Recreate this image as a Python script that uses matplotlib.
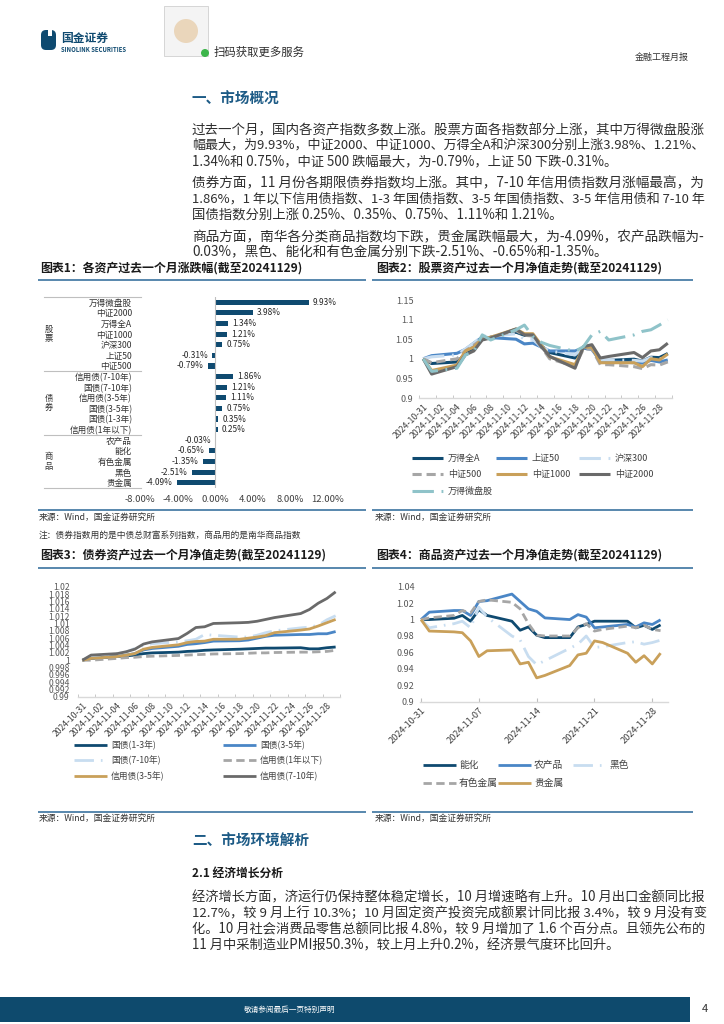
import matplotlib
matplotlib.use("Agg")

import matplotlib.pyplot as plt
import matplotlib.transforms as mtransforms
from matplotlib.patches import Rectangle, FancyBboxPatch, Circle
from matplotlib.ticker import FuncFormatter
import numpy as np
import pandas as pd

plt.rcParams['font.family'] = ['Noto Sans CJK SC', 'DejaVu Sans']
plt.rcParams['axes.unicode_minus'] = False

W, H = 724, 1024

# ---------------- data ----------------
asset_names = ["万得微盘股", "中证2000", "万得全A", "中证1000", "沪深300", "上证50", "中证500",
               "信用债(7-10年)", "国债(7-10年)", "信用债(3-5年)", "国债(3-5年)", "国债(1-3年)", "信用债(1年以下)",
               "农产品", "能化", "有色金属", "黑色", "贵金属"]
asset_returns = [9.93, 3.98, 1.34, 1.21, 0.75, -0.31, -0.79,
                 1.86, 1.21, 1.11, 0.75, 0.35, 0.25,
                 -0.03, -0.65, -1.35, -2.51, -4.09]
asset_groups = ["股票", "债券", "商品"]
group_sizes = [7, 6, 5]

trade_dates = pd.to_datetime([
    "2024-10-31", "2024-11-01", "2024-11-04", "2024-11-05", "2024-11-06", "2024-11-07", "2024-11-08",
    "2024-11-11", "2024-11-12", "2024-11-13", "2024-11-14", "2024-11-15", "2024-11-18", "2024-11-19",
    "2024-11-20", "2024-11-21", "2024-11-22", "2024-11-25", "2024-11-26", "2024-11-27", "2024-11-28",
    "2024-11-29"])

# stocks
wind_a = [1.000, 0.988, 0.992, 1.012, 1.030, 1.050, 1.055, 1.068, 1.060, 1.060, 1.033, 1.016, 1.002, 1.028,
          1.031, 0.996, 0.996, 0.999, 0.994, 1.004, 1.003, 1.0134]
sz50 = [1.000, 1.008, 1.014, 1.024, 1.040, 1.055, 1.054, 1.050, 1.038, 1.040, 1.030, 1.020, 1.020, 1.027,
        1.024, 0.994, 0.993, 0.990, 0.989, 0.996, 0.992, 0.9969]
hs300 = [1.000, 1.005, 1.010, 1.025, 1.040, 1.058, 1.057, 1.064, 1.050, 1.050, 1.030, 1.020, 1.010, 1.030,
         1.029, 0.997, 0.997, 0.996, 0.994, 1.003, 0.999, 1.0075]
zz500 = [1.000, 0.990, 1.000, 1.020, 1.035, 1.050, 1.055, 1.072, 1.060, 1.058, 1.030, 1.000, 0.981, 1.025,
         1.025, 0.985, 0.985, 0.980, 0.975, 0.985, 0.984, 0.9921]
zz1000 = [1.000, 0.970, 0.984, 1.020, 1.030, 1.050, 1.055, 1.076, 1.064, 1.064, 1.035, 1.005, 0.985, 1.030,
          1.030, 0.990, 0.990, 0.990, 0.980, 1.000, 0.997, 1.0121]
zz2000 = [1.000, 0.961, 0.980, 1.010, 1.020, 1.048, 1.053, 1.076, 1.061, 1.061, 1.031, 1.006, 0.976, 1.031,
          1.036, 1.002, 1.006, 1.016, 1.003, 1.020, 1.023, 1.0398]
micro = [1.000, 0.968, 0.976, 1.010, 1.019, 1.061, 1.048, 1.074, 1.086, 1.057, 1.042, 1.034, 1.019, 1.031,
         1.061, 1.070, 1.048, 1.061, 1.070, 1.074, 1.086, 1.0993]
stock_names = ["万得全A", "上证50", "沪深300", "中证500", "中证1000", "中证2000", "万得微盘股"]
stock_series = [wind_a, sz50, hs300, zz500, zz1000, zz2000, micro]

# bonds
gz13 = [1.0, 1.0005, 1.0010, 1.0012, 1.0014, 1.0018, 1.0020, 1.0022, 1.0024, 1.0025, 1.0027, 1.0028, 1.0030,
        1.0031, 1.0032, 1.0033, 1.0033, 1.0034, 1.0031, 1.0031, 1.0034, 1.0036]
gz35 = [1.0, 1.0006, 1.0010, 1.0014, 1.0018, 1.0028, 1.0032, 1.0038, 1.0043, 1.0045, 1.0048, 1.0052, 1.0053,
        1.0055, 1.0060, 1.0065, 1.0068, 1.0070, 1.0070, 1.0072, 1.0072, 1.0078]
gz710 = [1.0, 1.0012, 1.0018, 1.0022, 1.0032, 1.0040, 1.0045, 1.0050, 1.0053, 1.0057, 1.0070, 1.0068, 1.0063,
         1.0063, 1.0068, 1.0075, 1.0080, 1.0088, 1.0090, 1.0095, 1.0110, 1.0121]
xy1 = [1.0, 1.0000, 1.0005, 1.0007, 1.0008, 1.0010, 1.0011, 1.0013, 1.0014, 1.0015, 1.0016, 1.0017, 1.0018,
       1.0019, 1.0020, 1.0020, 1.0021, 1.0022, 1.0022, 1.0023, 1.0024, 1.0027]
xy35 = [1.0, 1.0005, 1.0010, 1.0014, 1.0018, 1.0030, 1.0035, 1.0042, 1.0048, 1.0051, 1.0052, 1.0057, 1.0057,
        1.0060, 1.0063, 1.0067, 1.0075, 1.0082, 1.0085, 1.0093, 1.0102, 1.0111]
xy710 = [1.0, 1.0014, 1.0018, 1.0023, 1.0030, 1.0044, 1.0050, 1.0059, 1.0073, 1.0089, 1.0091, 1.0100, 1.0102,
         1.0103, 1.0106, 1.0111, 1.0116, 1.0127, 1.0138, 1.0155, 1.0168, 1.0186]
bond_names = ["国债(1-3年)", "国债(3-5年)", "国债(7-10年)", "信用债(1年以下)", "信用债(3-5年)", "信用债(7-10年)"]
bond_series = [gz13, gz35, gz710, xy1, xy35, xy710]

# commodities
nenghua = [1.000, 1.000, 1.0016, 1.005, 0.998, 1.012, 1.005, 0.998, 0.987, 0.991, 0.981, 0.978, 0.978, 0.991,
           0.994, 0.998, 0.998, 0.998, 0.990, 0.993, 0.988, 0.9935]
agri = [1.000, 1.009, 1.011, 1.011, 1.005, 1.022, 1.023, 1.031, 1.022, 1.013, 1.010, 1.002, 1.000, 1.006,
        1.003, 0.990, 0.991, 0.994, 0.991, 0.996, 0.994, 0.9997]
black = [1.000, 0.990, 0.995, 0.998, 0.990, 1.015, 1.003, 0.980, 0.975, 0.955, 0.945, 0.950, 0.965, 0.970,
         0.980, 0.966, 0.967, 0.972, 0.973, 0.970, 0.972, 0.9749]
nonferrous = [1.000, 1.002, 1.005, 1.011, 1.008, 1.022, 1.024, 1.021, 1.013, 0.995, 0.981, 0.980, 0.980, 0.990,
              0.995, 0.986, 0.988, 0.992, 0.990, 0.993, 0.988, 0.9865]
precious = [1.000, 0.986, 0.985, 0.984, 0.974, 0.955, 0.962, 0.963, 0.946, 0.948, 0.929, 0.932, 0.944, 0.957,
            0.959, 0.974, 0.972, 0.959, 0.948, 0.956, 0.946, 0.9591]
comm_names = ["能化", "农产品", "黑色", "有色金属", "贵金属"]
comm_series = [nenghua, agri, black, nonferrous, precious]

# ---------------- styles ----------------
NAVY = "#0f4a70"
BLUE = "#4a86c6"
LIGHT = "#c8ddf0"
GRAY = "#a6a6a6"
GOLD = "#c9a05a"
DARK = "#6a6a6a"
TEAL = "#8fc3c9"
HEAD = "#1d5b86"
RULE = "#3b73a0"
TEXT = "#2e2e2e"
TICK = "#595959"


def style(color, kind, lw):
    st = dict(color=color, lw=lw, solid_capstyle="butt", dash_capstyle="butt")
    if kind == "dash":
        st["dashes"] = (3, 1.6)
    elif kind == "dashdot":
        st["dashes"] = (7, 2.5, 0.6, 2.5)
    return st


stock_styles = [style(NAVY, "solid", 2.2), style(BLUE, "solid", 2.2), style(LIGHT, "dashdot", 2.2),
                style(GRAY, "dash", 2.2), style(GOLD, "solid", 2.2), style(DARK, "solid", 2.2),
                style(TEAL, "dashdot", 2.2)]
bond_styles = [style(NAVY, "solid", 2.0), style(BLUE, "solid", 2.0), style(LIGHT, "dashdot", 2.0),
               style(GRAY, "dash", 2.0), style(GOLD, "solid", 2.0), style(DARK, "solid", 2.0)]
comm_styles = [style(NAVY, "solid", 2.0), style(BLUE, "solid", 2.0), style(LIGHT, "dashdot", 2.0),
               style(GRAY, "dash", 2.0), style(GOLD, "solid", 2.0)]

# ---------------- page ----------------
fig = plt.figure(figsize=(W / 100, H / 100), dpi=100)
ov = fig.add_axes([0, 0, 1, 1])
ov.set_xlim(0, W)
ov.set_ylim(H, 0)
ov.axis("off")
renderer = fig.canvas.get_renderer()


def px_rect(x0, y0, x1, y1):
    return [x0 / W, 1 - y1 / H, (x1 - x0) / W, (y1 - y0) / H]


def hline(x0, x1, y, color=RULE, lw=1.2):
    ov.plot([x0, x1], [y, y], color=color, lw=lw, solid_capstyle="butt")


def fit_text(x, y, s, width, size, **kw):
    t = ov.text(x, y, s, fontsize=size, ha="left", va="center", **kw)
    w = t.get_window_extent(renderer).width
    t.set_fontsize(size * width / w)
    return t.get_fontsize()


def paragraph(lines, x0, x1, y0, step, size=10):
    sizes = []
    for i, s in enumerate(lines[:-1]):
        sizes.append(fit_text(x0, y0 + i * step, s, x1 - x0, size, color=TEXT, fontweight="light"))
    last = np.mean(sizes) if sizes else size
    ov.text(x0, y0 + (len(lines) - 1) * step, lines[-1], fontsize=last, ha="left", va="center",
            color=TEXT, fontweight="light")


def draw_legend(names, styles, cols, rows, handle, gap, size):
    for i, (name, st) in enumerate(zip(names, styles)):
        x = cols[i % len(cols)]
        y = rows[i // len(cols)]
        ov.plot([x, x + handle], [y, y], **st)
        ov.text(x + handle + gap, y, name, fontsize=size, ha="left", va="center", color="#404040")


def date_axis(ax, ticks, minor, size):
    ax.set_xticks(ticks)
    ax.set_xticklabels([d.strftime("%Y-%m-%d") for d in ticks], rotation=45, ha="right", va="top",
                       rotation_mode="anchor", fontsize=size, color="#404040")
    if minor is not None:
        ax.set_xticks(minor, minor=True)
        ax.tick_params(axis="x", which="major", length=0, pad=3)
        ax.tick_params(axis="x", which="minor", length=2.5, direction="in", color="#bfbfbf")
    else:
        ax.tick_params(axis="x", which="major", length=3, direction="in", color="#bfbfbf", pad=3)
    for side in ["left", "top", "right"]:
        ax.spines[side].set_visible(False)
    ax.spines["bottom"].set_color("#d9d9d9")
    ax.spines["bottom"].set_linewidth(1.0)
    ax.tick_params(axis="y", length=0, pad=4, labelsize=6.5, labelcolor=TICK)


# header
ov.add_patch(FancyBboxPatch((41, 30), 15, 20, boxstyle="round,pad=0,rounding_size=5", fc=NAVY, ec="none"))
ov.add_patch(Rectangle((48, 29), 3.5, 7, fc="white", ec="none"))
ov.text(61, 38, "国金证券", fontsize=8.5, fontweight="bold", color=NAVY, ha="left", va="center")
ov.text(61, 49, "SINOLINK SECURITIES", fontsize=4.3, fontweight="bold", color=NAVY, ha="left", va="center")
ov.add_patch(Rectangle((164, 6), 44, 50, fc="#f4f4f4", ec="#d0d0d0", lw=0.6))
ov.add_patch(Circle((186, 31), 12, fc="#ead6bb", ec="none"))
ov.add_patch(Circle((205, 53), 4, fc="#3cb54a", ec="none"))
ov.text(214, 52, "扫码获取更多服务", fontsize=8.2, color=TEXT, ha="left", va="center")
ov.text(689, 57, "金融工程月报", fontsize=6.5, color="#333333", ha="right", va="center")

# section 1
ov.text(192, 99, "一、市场概况", fontsize=10.5, fontweight="bold", color=HEAD, ha="left", va="center")
paragraph(["过去一个月，国内各资产指数多数上涨。股票方面各指数部分上涨，其中万得微盘股涨",
           "幅最大，为9.93%，中证2000、中证1000、万得全A和沪深300分别上涨3.98%、1.21%、",
           "1.34%和 0.75%，中证 500 跌幅最大，为-0.79%，上证 50 下跌-0.31%。"], 192, 705, 130, 15.5)
paragraph(["债券方面，11 月份各期限债券指数均上涨。其中，7-10 年信用债指数月涨幅最高，为",
           "1.86%，1 年以下信用债指数、1-3 年国债指数、3-5 年国债指数、3-5 年信用债和 7-10 年",
           "国债指数分别上涨 0.25%、0.35%、0.75%、1.11%和 1.21%。"], 192, 705, 183.5, 15.5)
paragraph(["商品方面，南华各分类商品指数均下跌，贵金属跌幅最大，为-4.09%，农产品跌幅为-",
           "0.03%，黑色、能化和有色金属分别下跌-2.51%、-0.65%和-1.35%。"], 192, 705, 237, 15.5)

# chart frames
titles = [("图表1：各资产过去一个月涨跌幅(截至20241129)", 40, 268),
          ("图表2：股票资产过去一个月净值走势(截至20241129)", 376, 268),
          ("图表3：债券资产过去一个月净值走势(截至20241129)", 40, 555),
          ("图表4：商品资产过去一个月净值走势(截至20241129)", 376, 555)]
for s, x, y in titles:
    ov.text(x, y, s, fontsize=8.6, fontweight="bold", color="#1a1a1a", ha="left", va="center")
hline(38, 366, 280)
hline(372, 693, 280)
hline(38, 366, 568)
hline(372, 693, 568)
hline(38, 366, 510)
hline(372, 693, 510)
hline(38, 366, 812)
hline(372, 693, 812)
src = "来源：Wind，国金证券研究所"
for x, y in [(39, 517), (375, 517), (39, 818), (375, 818)]:
    ov.text(x, y, src, fontsize=6.3, color="#333333", ha="left", va="center")
ov.text(39, 535, "注：债券指数用的是中债总财富系列指数，商品用的是南华商品指数", fontsize=6.3,
        color="#333333", ha="left", va="center")

# ---------------- chart 1: bars ----------------
ax1 = fig.add_axes(px_rect(140, 297, 328, 488), facecolor="none")
rows = np.arange(len(asset_names))
ax1.barh(rows, asset_returns, height=0.48, color=NAVY)
ax1.set_xlim(-8, 12)
ax1.set_ylim(len(asset_names) - 0.5, -0.5)
ax1.axvline(0, color="#bfbfbf", lw=0.8)
ax1.set_xticks(np.arange(-8, 13, 4))
ax1.xaxis.set_major_formatter(FuncFormatter(lambda v, p: f"{v:.2f}%"))
ax1.set_yticks(rows)
ax1.set_yticklabels(asset_names)
ax1.tick_params(axis="x", length=0, pad=5, labelsize=6.8, labelcolor="#404040")
ax1.tick_params(axis="y", length=0, pad=5.8, labelsize=6.2, labelcolor="#333333")
for side in ax1.spines.values():
    side.set_visible(False)
for r, v in zip(rows, asset_returns):
    ax1.annotate(f"{v:.2f}%", (v, r), xytext=(3 if v >= 0 else -3, 0), textcoords="offset points",
                 ha="left" if v >= 0 else "right", va="center", fontsize=6, color="#262626")
mix = mtransforms.blended_transform_factory(ov.transData, ax1.transData)
edges = np.concatenate([[0], np.cumsum(group_sizes)]) - 0.5
for e in edges:
    ax1.plot([44, 141], [e, e], transform=mix, color="#bfbfbf", lw=0.8, clip_on=False)
for g, a, b in zip(asset_groups, edges[:-1], edges[1:]):
    ax1.text(49, (a + b) / 2, "\n".join(g), transform=mix, fontsize=6, color="#333333",
             ha="center", va="center", linespacing=1.05)

# ---------------- chart 2: stocks ----------------
start = trade_dates[0]
half = pd.Timedelta(hours=12)
every2 = pd.date_range(start, "2024-11-28", freq="2D")
bounds2 = pd.date_range(start - half, trade_dates[-1] + half, freq="2D")

ax2 = fig.add_axes(px_rect(419, 300, 672, 398), facecolor="none")
for vals, st in zip(stock_series, stock_styles):
    ax2.plot(trade_dates, vals, **st)
ax2.set_xlim(start - half, trade_dates[-1] + half)
ax2.set_ylim(0.9, 1.15)
ax2.set_yticks(np.arange(0.9, 1.151, 0.05))
ax2.yaxis.set_major_formatter(FuncFormatter(lambda v, p: f"{v:g}"))
date_axis(ax2, every2, bounds2, 6.3)
draw_legend(stock_names, stock_styles, [412, 496, 579], [458, 474, 491], 31, 5, 6.5)

# ---------------- chart 3: bonds ----------------
ax3 = fig.add_axes(px_rect(78, 586.7, 340, 697), facecolor="none")
for vals, st in zip(bond_series, bond_styles):
    ax3.plot(trade_dates, vals, **st)
ax3.set_xlim(start - half, trade_dates[-1] + half)
ax3.set_ylim(0.99, 1.02)
ax3.set_yticks(np.arange(0.99, 1.0201, 0.002))
ax3.yaxis.set_major_formatter(FuncFormatter(lambda v, p: f"{round(v, 3):g}"))
date_axis(ax3, every2, bounds2, 6.2)
ax3.tick_params(axis="y", labelsize=6.2, pad=6)
draw_legend(bond_names, bond_styles, [74, 223], [745, 760, 776], 33, 4, 6.3)

# ---------------- chart 4: commodities ----------------
every7 = pd.date_range(start, "2024-11-28", freq="7D")
ax4 = fig.add_axes(px_rect(420, 586.7, 668, 701.7), facecolor="none")
for vals, st in zip(comm_series, comm_styles):
    ax4.plot(trade_dates, vals, **st)
ax4.set_xlim(start - pd.Timedelta(hours=3), start + pd.Timedelta(days=29.9))
ax4.set_ylim(0.9, 1.04)
ax4.set_yticks(np.arange(0.9, 1.0401, 0.02))
ax4.yaxis.set_major_formatter(FuncFormatter(lambda v, p: f"{round(v, 2):g}"))
date_axis(ax4, every7, None, 6.6)
draw_legend(comm_names, comm_styles, [423, 498, 573], [765, 783], 33, 3, 7)

# ---------------- section 2 ----------------
ov.text(192, 841, "二、市场环境解析", fontsize=10.5, fontweight="bold", color=HEAD, ha="left", va="center")
ov.text(192, 873, "2.1 经济增长分析", fontsize=8.5, fontweight="bold", color="#1a1a1a", ha="left", va="center")
paragraph(["经济增长方面，济运行仍保持整体稳定增长，10 月增速略有上升。10 月出口金额同比报",
           "12.7%，较 9 月上行 10.3%；10 月固定资产投资完成额累计同比报 3.4%，较 9 月没有变",
           "化。10 月社会消费品零售总额同比报 4.8%，较 9 月增加了 1.6 个百分点。且领先公布的",
           "11 月中采制造业PMI报50.3%，较上月上升0.2%，经济景气度环比回升。"], 192, 705, 897, 16)

# footer
ov.add_patch(Rectangle((0, 997), 690, 25, fc="#0e4a6d", ec="none"))
ov.text(290, 1009.5, "敬请参阅最后一页特别声明", fontsize=5.5, color="white", ha="center", va="center")
ov.text(705, 1009.5, "4", fontsize=8, color="#333333", ha="center", va="center")

fig.savefig("out.png", dpi=100)
